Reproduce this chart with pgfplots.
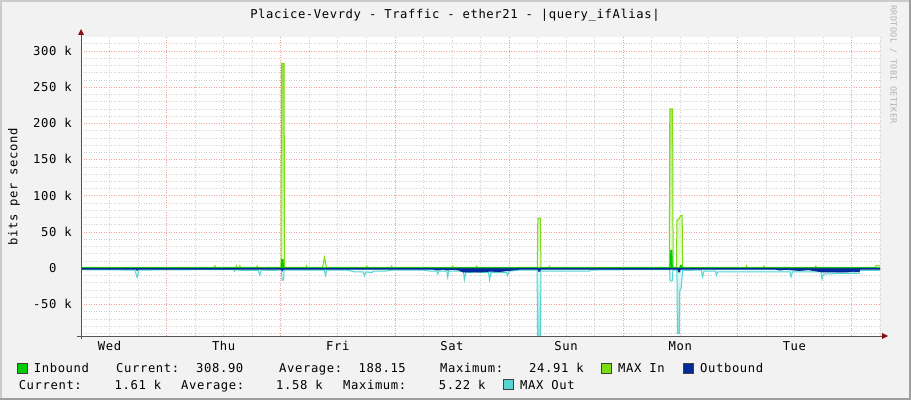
\documentclass[border=0pt]{standalone}
\usepackage{fontspec}
\setmainfont{DejaVu Sans Mono}
\newfontfamily\rrdmono{DejaVu Sans Mono}[LetterSpace=5]
\newcommand\rrdfont{\rrdmono\fontsize{12.2}{14}\selectfont}
\newcommand\rrdsmall{\rrdmono\fontsize{8.4}{10}\selectfont}
\usepackage{pgfplots}
\usepackage{pgfplotstable}
\pgfplotsset{compat=1.18}

\definecolor{rrdback}{HTML}{F2F2F2}
\definecolor{shadea}{HTML}{CBCBCB}
\definecolor{shadeb}{HTML}{9F9F9F}
\definecolor{majgrid}{HTML}{F2A0A0}
\definecolor{mingrid}{HTML}{D2D2D2}
\definecolor{axisgrey}{HTML}{555555}
\definecolor{arrowred}{HTML}{8B1010}
\definecolor{inb}{HTML}{00CC00}
\definecolor{maxin}{HTML}{7CDC12}
\definecolor{outb}{HTML}{002A97}
\definecolor{maxout}{HTML}{55D6D3}

% time in hours from Wed 00:00, values in k bits/s
\pgfplotstableread{
t v
6 1.4
34.0 1.4
34.15 3.5
34.3 1.4
38.6 1.4
38.7 3.5
38.85 1.4
39.3 1.4
39.4 3.5
39.55 1.4
42.9 1.4
43.0 3.0
43.15 1.4
48.05 1.4
48.15 283
48.7 283
48.8 1.4
53.3 1.4
53.4 3.5
53.55 1.4
56.8 1.4
57.2 15
57.6 1.4
66.0 1.4
66.1 3.0
66.25 1.4
71.2 1.4
71.3 3.0
71.45 1.4
84.0 1.4
84.1 3.0
84.25 1.4
89.1 1.4
89.2 3.0
89.35 1.4
101.95 1.4
102.05 69
102.6 69
102.7 1.4
104.4 1.4
104.5 3.0
104.65 1.4
129.7 1.4
129.8 220
130.4 220
130.5 1.4
131.2 1.4
131.3 66
131.9 70
132.1 73
132.4 73
132.5 1.4
145.8 1.4
145.9 3.5
146.05 1.4
149.5 1.4
149.6 3.0
149.75 1.4
160.4 1.4
160.5 3.0
160.65 1.4
173.0 1.4
173.2 4.0
174 3.0
}\maxintab

\pgfplotstableread{
t v
6 0.6
48.1 0.6
48.2 12.4
48.5 12.4
48.6 0.6
129.9 0.6
130.0 24.9
130.25 24.9
130.35 0.6
131.9 0.6
132.0 4
132.3 4
132.4 0.6
174 0.6
}\inbtab

\pgfplotstableread{
t v
6 -1.3
17.6 -1.3
17.8 -3
18.0 -1.3
48.2 -1.3
48.3 -3.5
48.6 -1.3
80 -1.3
81 -2.5
82 -1.3
83 -2.5
84 -1.5
85.5 -2.5
86.2 -5
90 -5.2
92 -4
94 -4.5
96 -3
98.2 -1.3
102.1 -1.3
102.2 -4
102.5 -4
102.6 -1.3
131.5 -1.3
131.6 -5
131.9 -5
132.0 -1.3
152 -1.3
153 -2.5
154 -1.5
157 -3
159 -2
161.8 -5
166 -5.2
169.6 -4.5
169.8 -1.3
174 -1.3
}\outbtab

\pgfplotstableread{
t v
6 -2.0
17.3 -2.5
17.8 -12.5
18.2 -2.5
30 -2.0
38.1 -2.0
38.3 -4
38.5 -2.0
40 -3
43.3 -3
43.6 -9.7
43.9 -2.5
46 -3
48.15 -2.5
48.25 -16.5
48.6 -16.5
48.7 -2.5
57.2 -2.5
57.4 -10
57.7 -2.5
62 -2.5
63.5 -5
65.3 -5
65.6 -10.6
65.9 -5
67.2 -6
67.5 -4
70 -4
71.5 -2.5
78 -2.5
79.5 -4
80.8 -4
81.0 -8
81.3 -4
82.9 -4
83.1 -12.5
83.3 -4
86.4 -4
86.6 -16
86.9 -6
89 -5
91.7 -6
91.9 -16
92.2 -6
95.5 -6
95.7 -10
96.0 -4
98.2 -2.5
101.9 -2.5
102.0 -100
102.6 -100
102.7 -4
112.9 -4
113.0 -2.5
120 -2.0
129.75 -2.0
129.85 -17.5
130.35 -17.5
130.45 -2.5
131.3 -2.5
131.4 -90
131.8 -90
131.9 -30
132.2 -28
132.5 -3
136.4 -2.5
136.7 -12
137.0 -4
139.4 -4
139.6 -10
139.9 -5
155.1 -5
155.3 -12
155.6 -5
161.6 -5
161.8 -15
162.1 -8
166 -7
169.6 -7
169.7 -3
174 -3
}\maxouttab

\begin{document}
\begin{tikzpicture}
% background and 3d frame
\fill[rrdback] (0,0) rectangle (911pt,400pt);
\fill[shadea] (0,0) rectangle (2pt,400pt);
\fill[shadea] (0,398pt) rectangle (911pt,400pt);
\fill[shadeb] (909pt,0) rectangle (911pt,400pt);
\fill[shadeb] (0,0) rectangle (911pt,2pt);

\begin{axis}[
  at={(81pt,64pt)}, anchor=south west,
  scale only axis, width=799pt, height=299pt,
  xmin=6, xmax=174, ymin=-93.5, ymax=319.3,
  axis line style={draw=none},
  major tick length=0pt, minor tick length=0pt,
  axis background/.style={fill=white},
  grid=both,
  major grid style={majgrid, line width=0.7pt, dash pattern=on 1pt off 1.5pt},
  minor grid style={mingrid, line width=0.7pt, dash pattern=on 1pt off 1.5pt},
  xtick={24,48,...,168}, xticklabels={},
  minor xtick={6,12,...,174},
  extra x ticks={12,36,...,156},
  extra x tick labels={Wed,Thu,Fri,Sat,Sun,Mon,Tue},
  extra x tick style={grid=none},
  ytick={-50,0,...,300},
  yticklabels={-50 k,0\hphantom{ k},50 k,100 k,150 k,200 k,250 k,300 k},
  minor ytick={-90,-80,...,310},
  xticklabel style={font=\rrdfont, anchor=base, inner sep=0pt, yshift=-14pt},
  yticklabel style={font=\rrdfont, anchor=base east, inner sep=0pt, xshift=-9pt, yshift=-4.3pt},
]
\addplot[draw=none, top color=maxin!85, bottom color=maxin!12] table {\maxintab} \closedcycle;
\addplot[draw=none, top color=maxout!15, bottom color=maxout!75] table {\maxouttab} \closedcycle;
\addplot[maxin, line width=1pt] table {\maxintab};
\addplot[maxout, line width=1pt] table {\maxouttab};
\addplot[fill=inb, draw=inb, line width=0.8pt] table {\inbtab} \closedcycle;
\addplot[fill=outb, draw=outb, line width=0.8pt] table {\outbtab} \closedcycle;
\end{axis}

% axis lines and arrows
\draw[axisgrey, line width=1pt] (77pt,64pt) -- (883pt,64pt);
\draw[axisgrey, line width=1pt] (81pt,61pt) -- (81pt,365pt);
\fill[arrowred] (888pt,64pt) -- (882pt,67pt) -- (882pt,61pt) -- cycle;
\fill[arrowred] (81pt,371pt) -- (78pt,365pt) -- (84pt,365pt) -- cycle;

% title and side texts
\node[font=\rrdfont, anchor=base, inner sep=0pt] at (455pt,381.5pt) {Placice-Vevrdy - Traffic - ether21 - |query\_ifAlias|};
\node[font=\rrdfont, rotate=90, inner sep=0pt] at (14pt,213pt) {bits per second};
\node[font=\rrdsmall, text=gray!60, rotate=-90, anchor=north west, inner sep=0pt] at (897pt,395pt) {RRDTOOL / TOBI OETIKER};

% legend
\begin{scope}[every node/.style={font=\rrdfont, anchor=base west, inner sep=0pt}]
\filldraw[fill=inb, draw=black!75, line width=0.8pt] (17.5pt,27pt) rectangle (27.5pt,37pt);
\node at (33.7pt,27.3pt) {Inbound};
\node at (116pt,27.3pt) {Current:};
\node at (196pt,27.3pt) {308.90};
\node at (279pt,27.3pt) {Average:};
\node at (358.5pt,27.3pt) {188.15};
\node at (440pt,27.3pt) {Maximum:};
\node at (529pt,27.3pt) {24.91 k};
\filldraw[fill=maxin, draw=black!75, line width=0.8pt] (601pt,27pt) rectangle (611pt,37pt);
\node at (618pt,27.3pt) {MAX In};
\filldraw[fill=outb, draw=black!75, line width=0.8pt] (683pt,27pt) rectangle (693pt,37pt);
\node at (700pt,27.3pt) {Outbound};
\node at (18.6pt,11pt) {Current:};
\node at (114.5pt,11pt) {1.61 k};
\node at (181pt,11pt) {Average:};
\node at (276pt,11pt) {1.58 k};
\node at (343pt,11pt) {Maximum:};
\node at (438.7pt,11pt) {5.22 k};
\filldraw[fill=maxout, draw=black!75, line width=0.8pt] (503pt,11pt) rectangle (513pt,21pt);
\node at (520pt,11pt) {MAX Out};
\end{scope}

\pgfresetboundingbox
\useasboundingbox (0,0) rectangle (911pt,400pt);
\end{tikzpicture}
\end{document}
